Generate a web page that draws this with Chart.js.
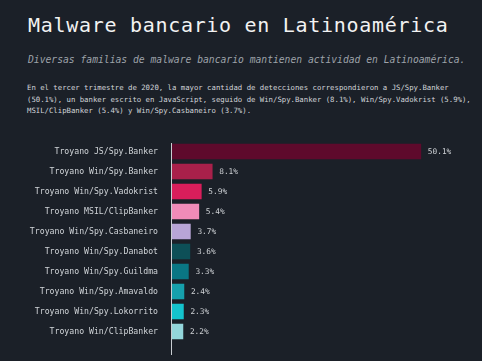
<!DOCTYPE html>
<html>
<head>
<meta charset="utf-8">
<script src="https://cdn.jsdelivr.net/npm/chart.js@4/dist/chart.umd.min.js"></script>
<style>
  html, body { margin: 0; padding: 0; background: #1b2028; width: 482px; height: 361px; overflow: hidden; }
  .txt { position: absolute; font-family: "DejaVu Sans Mono", monospace; white-space: nowrap; }
  #title { left: 28px; top: 13px; font-size: 20px; color: #f2f2f2; letter-spacing: 0.7px; }
  #subtitle { left: 28px; top: 54px; font-size: 9.7px; color: #9ea3aa; font-style: italic; }
  #para { left: 27px; top: 82px; font-size: 7.3px; line-height: 11.5px; color: #d2d5d9; }
  #wrap { position: absolute; left: 0; top: 0; width: 482px; height: 361px; }
</style>
</head>
<body>
<div class="txt" id="title">Malware bancario en Latinoamérica</div>
<div class="txt" id="subtitle">Diversas familias de malware bancario mantienen actividad en Latinoamérica.</div>
<div class="txt" id="para">En el tercer trimestre de 2020, la mayor cantidad de detecciones correspondieron a JS/Spy.Banker<br>(50.1%), un banker escrito en JavaScript, seguido de Win/Spy.Banker (8.1%), Win/Spy.Vadokrist (5.9%),<br>MSIL/ClipBanker (5.4%) y Win/Spy.Casbaneiro (3.7%).</div>
<div id="wrap"><canvas id="malware_graph" width="482" height="361"></canvas></div>
<script>
var labels = [
  "Troyano JS/Spy.Banker",
  "Troyano Win/Spy.Banker",
  "Troyano Win/Spy.Vadokrist",
  "Troyano MSIL/ClipBanker",
  "Troyano Win/Spy.Casbaneiro",
  "Troyano Win/Spy.Danabot",
  "Troyano Win/Spy.Guildma",
  "Troyano Win/Spy.Amavaldo",
  "Troyano Win/Spy.Lokorrito",
  "Troyano Win/ClipBanker"
];
var values = [50.1, 8.1, 5.9, 5.4, 3.7, 3.6, 3.3, 2.4, 2.3, 2.2];
var colors = ["#5e0a2c", "#a8204a", "#d91e5b", "#f08bb8", "#b8a5d6",
              "#0d4f57", "#0a7684", "#16a0ac", "#14c3cd", "#93d6db"];

// value labels to the right of each bar
const valueLabels = {
  id: "valueLabels",
  afterDatasetsDraw(chart) {
    const ctx = chart.ctx;
    ctx.save();
    ctx.font = "7.8px 'DejaVu Sans Mono'";
    ctx.fillStyle = "#cdd0d4";
    ctx.textBaseline = "middle";
    chart.getDatasetMeta(0).data.forEach((bar, i) => {
      ctx.fillText(values[i].toFixed(1) + "%", bar.x + 7, bar.y + 0.5);
    });
    ctx.restore();
  }
};

// vertical axis line, a bit longer than the bars
const axisLine = {
  id: "axisLine",
  afterDatasetsDraw(chart) {
    const a = chart.chartArea;
    const ctx = chart.ctx;
    ctx.save();
    ctx.strokeStyle = "#c9cdd2";
    ctx.lineWidth = 1;
    ctx.beginPath();
    ctx.moveTo(a.left - 0.5, a.top + 1.5);
    ctx.lineTo(a.left - 0.5, a.bottom + 13.5);
    ctx.stroke();
    ctx.restore();
  }
};

const data_malware = {
  labels: labels,
  datasets: [
    {
      data: values,
      backgroundColor: colors,
      borderWidth: 0,
      barThickness: 15,
    },
  ],
};

const config_malware = {
  type: "bar",
  data: data_malware,
  options: {
    indexAxis: "y",
    responsive: false,
    animation: false,
    layout: { padding: { top: 141.5, bottom: 19.5, left: 0, right: 12 } },
    plugins: { legend: { display: false }, tooltip: { enabled: false } },
    scales: {
      x: { display: false, min: 0, max: 60 },
      y: {
        afterFit(scale) { scale.width = 172; },
        grid: { display: false },
        border: { display: false },
        ticks: {
          color: "#d0d4d8",
          padding: 6,
          font: { family: "DejaVu Sans Mono", size: 8.2 },
        },
      },
    },
  },
  plugins: [valueLabels, axisLine],
};

new Chart(document.getElementById("malware_graph"), config_malware);
</script>
</body>
</html>
